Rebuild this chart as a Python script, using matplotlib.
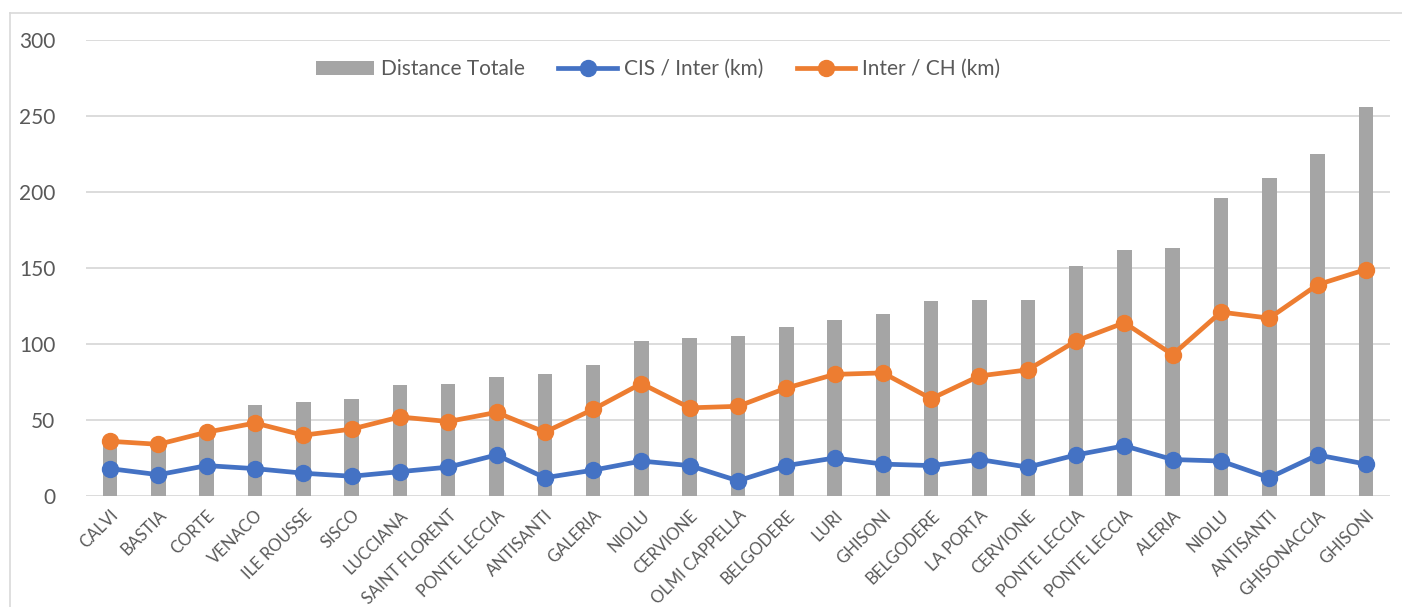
import matplotlib
matplotlib.use("Agg")
import matplotlib.pyplot as plt
from matplotlib.lines import Line2D
import numpy as np

plt.rcParams['font.family'] = ['Lato', 'DejaVu Sans']

# Data: one entry per site
communes = ["CALVI", "BASTIA", "CORTE", "VENACO", "ILE ROUSSE", "SISCO", "LUCCIANA",
            "SAINT FLORENT", "PONTE LECCIA", "ANTISANTI", "GALERIA", "NIOLU", "CERVIONE",
            "OLMI CAPPELLA", "BELGODERE", "LURI", "GHISONI", "BELGODERE", "LA PORTA",
            "CERVIONE", "PONTE LECCIA", "PONTE LECCIA", "ALERIA", "NIOLU", "ANTISANTI",
            "GHISONACCIA", "GHISONI"]
distance_totale = [36, 33, 42, 60, 62, 64, 73, 74, 78, 80, 86, 102, 104, 105, 111, 116,
                   120, 128, 129, 129, 151, 162, 163, 196, 209, 225, 256]
cis_inter = [18, 14, 20, 18, 15, 13, 16, 19, 27, 12, 17, 23, 20, 10, 20, 25, 21, 20, 24,
             19, 27, 33, 24, 23, 12, 27, 21]
inter_ch = [36, 34, 42, 48, 40, 44, 52, 49, 55, 42, 57, 74, 58, 59, 71, 80, 81, 64, 79,
            83, 102, 114, 93, 121, 117, 139, 149]
y_ticks = [0, 50, 100, 150, 200, 250, 300]

GREY = "#A5A5A5"
BLUE = "#4472C4"
ORANGE = "#ED7D31"
TEXT = "#595959"
GRID = "#D9D9D9"

W, H = 1402, 607
fig = plt.figure(figsize=(W / 100, H / 100), dpi=100)

# chart-area frame
fig.add_artist(Line2D([10 / W, 1], [1 - 13 / H, 1 - 13 / H], color=GRID, lw=1.2,
                      transform=fig.transFigure))
fig.add_artist(Line2D([10 / W, 10 / W], [0, 1 - 13 / H], color=GRID, lw=1.2,
                      transform=fig.transFigure))

ax = fig.add_axes([86 / W, (H - 496) / H, 1304 / W, 456 / H])
x = np.arange(len(communes))

bars = ax.bar(x, distance_totale, width=0.3, color=GREY, zorder=2, label="Distance Totale")
l_cis, = ax.plot(x, cis_inter, color=BLUE, lw=3.4, marker="o", markersize=11.5, zorder=3,
                 label="CIS / Inter (km)")
l_ch, = ax.plot(x, inter_ch, color=ORANGE, lw=3.4, marker="o", markersize=11.5, zorder=4,
                label="Inter / CH (km)")

ax.set_xlim(-0.5, len(communes) - 0.5)
ax.set_ylim(0, 300)
ax.set_yticks(y_ticks)
ax.set_yticklabels([str(v) for v in y_ticks], fontsize=15, color=TEXT)
ax.set_xticks(x)
ax.set_xticklabels(communes, rotation=45, ha="right", rotation_mode="anchor",
                   fontsize=12, color=TEXT)
ax.tick_params(axis="both", length=0)
ax.tick_params(axis="y", pad=22)
ax.tick_params(axis="x", pad=8)

ax.grid(axis="y", color=GRID, lw=1.3, zorder=0)
ax.set_axisbelow(True)
for s in ax.spines.values():
    s.set_visible(False)

ax.legend(handles=[bars, l_cis, l_ch], loc="center", bbox_to_anchor=(0.4387, 0.936),
          ncol=3, frameon=False, fontsize=15, handlelength=2.8, handletextpad=0.35,
          columnspacing=1.6, labelcolor=TEXT)

fig.savefig("out.png", dpi=100)
